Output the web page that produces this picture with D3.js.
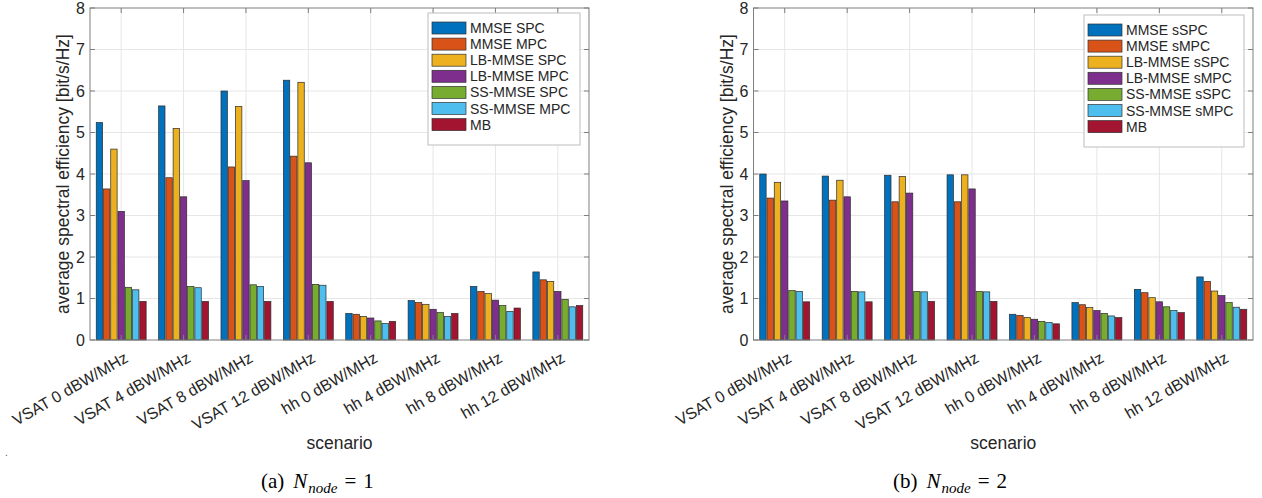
<!DOCTYPE html>
<html>
<head>
<meta charset="utf-8">
<script src="https://cdn.jsdelivr.net/npm/d3@7/dist/d3.min.js"></script>
<style>
  body { margin: 0; background: #fff; }
  svg { display: block; }
  .tick-label { font-family: "Liberation Sans", Arial, Helvetica, sans-serif; fill: #262626; }
</style>
</head>
<body>
<div id="chart"></div>
<script>
// scenarios on the x axis
const categories = ['VSAT 0 dBW/MHz', 'VSAT 4 dBW/MHz', 'VSAT 8 dBW/MHz', 'VSAT 12 dBW/MHz',
  'hh 0 dBW/MHz', 'hh 4 dBW/MHz', 'hh 8 dBW/MHz', 'hh 12 dBW/MHz'];
const yTicks = [0, 1, 2, 3, 4, 5, 6, 7, 8];

// (a) N_node = 1
const seriesA = ['MMSE SPC', 'MMSE MPC', 'LB-MMSE SPC', 'LB-MMSE MPC', 'SS-MMSE SPC', 'SS-MMSE MPC', 'MB'];
const mmseSpcA   = [5.24, 5.64, 6.00, 6.26, 0.64, 0.95, 1.29, 1.64];
const mmseMpcA   = [3.64, 3.91, 4.17, 4.43, 0.62, 0.90, 1.17, 1.45];
const lbSpcA     = [4.60, 5.10, 5.63, 6.21, 0.57, 0.86, 1.12, 1.41];
const lbMpcA     = [3.10, 3.45, 3.84, 4.27, 0.53, 0.74, 0.96, 1.17];
const ssSpcA     = [1.27, 1.29, 1.33, 1.34, 0.46, 0.66, 0.83, 0.98];
const ssMpcA     = [1.21, 1.26, 1.29, 1.32, 0.40, 0.57, 0.69, 0.80];
const mbA        = [0.93, 0.93, 0.93, 0.93, 0.45, 0.64, 0.77, 0.83];

// (b) N_node = 2
const seriesB = ['MMSE sSPC', 'MMSE sMPC', 'LB-MMSE sSPC', 'LB-MMSE sMPC', 'SS-MMSE sSPC', 'SS-MMSE sMPC', 'MB'];
const mmseSpcB   = [4.00, 3.95, 3.97, 3.98, 0.62, 0.90, 1.22, 1.52];
const mmseMpcB   = [3.42, 3.37, 3.33, 3.33, 0.59, 0.85, 1.14, 1.41];
const lbSpcB     = [3.80, 3.85, 3.94, 3.98, 0.54, 0.78, 1.02, 1.18];
const lbMpcB     = [3.35, 3.45, 3.54, 3.64, 0.50, 0.71, 0.92, 1.07];
const ssSpcB     = [1.19, 1.17, 1.17, 1.17, 0.45, 0.64, 0.80, 0.90];
const ssMpcB     = [1.17, 1.16, 1.16, 1.16, 0.42, 0.58, 0.71, 0.79];
const mbB        = [0.92, 0.92, 0.93, 0.93, 0.39, 0.54, 0.66, 0.74];

const colors = ['#0072BD', '#D95319', '#EDB120', '#7E2F8E', '#77AC30', '#4DBEEE', '#A2142F'];

const W = 1262, H = 498;
const font = '"Liberation Sans", Arial, Helvetica, sans-serif';

const svg = d3.select('#chart').append('svg')
  .attr('width', W).attr('height', H)
  .attr('viewBox', `0 0 ${W} ${H}`);

function drawPanel(p) {
  const g = svg.append('g');
  const x = d3.scaleLinear().domain([0.5, categories.length + 0.5]).range([p.left, p.right]);
  const y = d3.scaleLinear().domain([0, 8]).range([p.bottom, p.top]);
  const inner = d3.scaleBand().domain(p.series).range([-0.4, 0.4]).paddingInner(0.12);

  // grid
  g.append('g').selectAll('line.hgrid').data(yTicks.slice(1, -1)).enter().append('line')
    .attr('x1', p.left).attr('x2', p.right)
    .attr('y1', d => y(d)).attr('y2', d => y(d))
    .attr('stroke', '#e6e6e6').attr('stroke-width', 1);
  g.append('g').selectAll('line.vgrid').data(categories).enter().append('line')
    .attr('x1', (d, i) => x(i + 1)).attr('x2', (d, i) => x(i + 1))
    .attr('y1', p.top).attr('y2', p.bottom)
    .attr('stroke', '#e6e6e6').attr('stroke-width', 1);

  // bars
  const layers = g.append('g').selectAll('g.layer').data(p.values).enter().append('g')
    .attr('fill', (d, i) => colors[i]);
  layers.each(function (vals, si) {
    d3.select(this).selectAll('rect').data(vals).enter().append('rect')
      .attr('x', (v, ci) => x(ci + 1 + inner(p.series[si])))
      .attr('width', x(inner.bandwidth()) - x(0))
      .attr('y', v => y(v))
      .attr('height', v => y(0) - y(v))
      .attr('stroke', '#2b2b2b').attr('stroke-width', 0.7);
  });

  // axis box and inside ticks
  g.append('rect').attr('x', p.left).attr('y', p.top)
    .attr('width', p.right - p.left).attr('height', p.bottom - p.top)
    .attr('fill', 'none').attr('stroke', '#7f7f7f').attr('stroke-width', 1);
  const tk = 5;
  yTicks.forEach(t => {
    g.append('line').attr('x1', p.left).attr('x2', p.left + tk).attr('y1', y(t)).attr('y2', y(t)).attr('stroke', '#7f7f7f');
    g.append('line').attr('x1', p.right).attr('x2', p.right - tk).attr('y1', y(t)).attr('y2', y(t)).attr('stroke', '#7f7f7f');
  });
  categories.forEach((c, i) => {
    g.append('line').attr('x1', x(i + 1)).attr('x2', x(i + 1)).attr('y1', p.bottom).attr('y2', p.bottom - tk).attr('stroke', '#7f7f7f');
    g.append('line').attr('x1', x(i + 1)).attr('x2', x(i + 1)).attr('y1', p.top).attr('y2', p.top + tk).attr('stroke', '#7f7f7f');
  });

  // y tick labels
  g.append('g').selectAll('text').data(yTicks).enter().append('text')
    .attr('class', 'tick-label')
    .attr('x', p.left - 5).attr('y', d => y(d))
    .attr('dy', '0.36em').attr('text-anchor', 'end')
    .style('font-size', '16px')
    .text(d => d);

  // x tick labels, rotated
  g.append('g').selectAll('text').data(categories).enter().append('text')
    .attr('class', 'tick-label')
    .attr('transform', (d, i) => `translate(${x(i + 1) + 8},${p.bottom + 21}) rotate(-30)`)
    .attr('text-anchor', 'end')
    .style('font-size', '16px')
    .text(d => d);

  // axis titles
  g.append('text').attr('class', 'tick-label')
    .attr('transform', `translate(${p.left - 21},${(p.top + p.bottom) / 2}) rotate(-90)`)
    .attr('text-anchor', 'middle').style('font-size', '17.5px')
    .text('average spectral efficiency [bit/s/Hz]');
  g.append('text').attr('class', 'tick-label')
    .attr('x', (p.left + p.right) / 2).attr('y', 449)
    .attr('text-anchor', 'middle').style('font-size', '17.5px')
    .text('scenario');

  // legend
  const lg = g.append('g').attr('transform', `translate(${p.legX},${p.legY})`);
  lg.append('rect').attr('width', p.legW).attr('height', 132)
    .attr('fill', '#fff').attr('stroke', '#bdbdbd').attr('stroke-width', 1);
  p.series.forEach((s, i) => {
    const row = lg.append('g').attr('transform', `translate(4,${9 + i * 16.1})`);
    row.append('rect').attr('width', 34).attr('height', 12)
      .attr('fill', colors[i]).attr('stroke', '#333').attr('stroke-width', 0.7);
    row.append('text').attr('class', 'tick-label')
      .attr('x', 38).attr('y', 6).attr('dy', '0.36em')
      .style('font-size', '14px').text(s);
  });

  // caption
  const cap = g.append('text')
    .attr('x', p.capX).attr('y', 488)
    .style('font-family', '"Liberation Serif", "Times New Roman", serif')
    .style('font-size', '21px').attr('fill', '#000');
  cap.append('tspan').text(p.capLetter);
  cap.append('tspan').attr('dx', 9).style('font-style', 'italic').text('N');
  cap.append('tspan').style('font-style', 'italic').style('font-size', '15px')
    .attr('dx', 1).attr('dy', 5).text('node');
  cap.append('tspan').attr('dy', -5).attr('dx', 7).text('=');
  cap.append('tspan').attr('dx', 7).text(p.capN);
}

drawPanel({
  left: 90, right: 589, top: 8, bottom: 340,
  series: seriesA,
  values: [mmseSpcA, mmseMpcA, lbSpcA, lbMpcA, ssSpcA, ssMpcA, mbA],
  legX: 428, legY: 13, legW: 152,
  capX: 261, capLetter: '(a)', capN: 1
});

drawPanel({
  left: 753.5, right: 1253, top: 8, bottom: 340,
  series: seriesB,
  values: [mmseSpcB, mmseMpcB, lbSpcB, lbMpcB, ssSpcB, ssMpcB, mbB],
  legX: 1084, legY: 15, legW: 160,
  capX: 893, capLetter: '(b)', capN: 2
});

// stray dot at left margin of the original figure
svg.append('text').attr('x', 5).attr('y', 456)
  .style('font-family', font).style('font-size', '10px').attr('fill', '#555').text('.');
</script>
</body>
</html>
